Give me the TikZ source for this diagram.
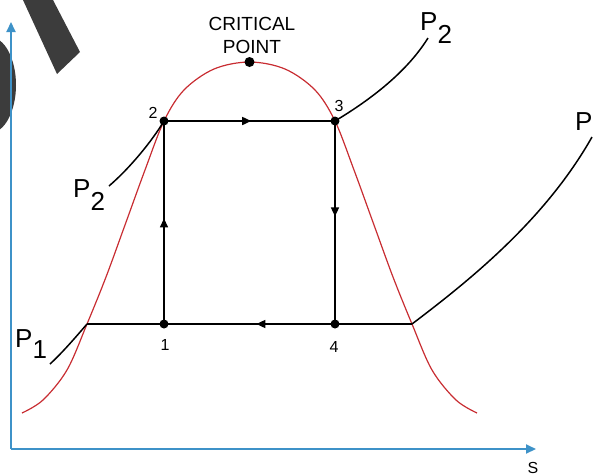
\documentclass[tikz,border=0pt]{standalone}
\usepackage{fontspec}
\setmainfont{Liberation Sans}
\usetikzlibrary{arrows.meta,decorations.markings}
\definecolor{axisblue}{RGB}{62,146,200}
\definecolor{curvered}{RGB}{200,45,50}
\definecolor{blotgray}{RGB}{60,60,60}
\begin{document}
\begin{tikzpicture}[x=1pt,y=-1pt,
  cyc/.style={line width=1.6pt,black},
  midarrow/.style={postaction={decorate},decoration={markings,mark=at position #1 with {\arrow{Triangle[length=9pt,width=8pt]}}}},
  statept/.style={circle,fill=black,inner sep=0pt,minimum size=9pt},
  num/.style={font=\fontsize{16}{16}\selectfont,inner sep=0pt,anchor=base},
  plab/.style={font=\fontsize{26}{26}\selectfont,inner sep=0pt,anchor=base west},
  crit/.style={font=\fontsize{19}{23}\selectfont,inner sep=0pt,anchor=base},
  axisline/.style={line width=2pt,axisblue,-{Triangle[length=10pt,width=9pt]}},
  sat/.style={curvered,line width=1.2pt},
  pline/.style={line width=1.5pt,black},
  blot/.style={fill=blotgray,draw=none}]
\useasboundingbox (0,0) rectangle (598,475);
% dark artefacts
\fill[blot] (-10,85) ellipse [x radius=26, y radius=48];
\fill[blot] (23,0) -- (53,0) -- (80,52) -- (57,74) -- cycle;
% axes
\coordinate (O) at (11,449);
\coordinate (Ytop) at (11,22);
\coordinate (Xend) at (536,449);
\draw[axisline] (O) -- (Ytop);
\draw[axisline] (O) -- (Xend);
\node[num] (slab) at (533,473) {S};
% saturation dome
\draw[sat] plot[smooth,tension=0.55] coordinates {(22,413) (43,400) (67,370) (87,324) (106,277) (125,225) (145,170) (164,121) (184,90) (214,69) (249.5,62) (285,69) (315,90) (335,121) (354,170) (374,225) (393,277) (412,324) (432,370) (456,400) (477,413)};
% state points
\node[statept] (p1) at (164,324) {};
\node[statept] (p2) at (164,121) {};
\node[statept] (p3) at (335,121) {};
\node[statept] (p4) at (335,324) {};
\node[statept,minimum size=10pt] (cp) at (249.5,62) {};
\coordinate (lc) at (87,324);
\coordinate (rc) at (412,324);
% cycle
\draw[cyc,midarrow=0.51] (p2.center) -- (p3.center);
\draw[cyc,midarrow=0.47] (p3.center) -- (p4.center);
\draw[cyc,midarrow=0.46] (p4.center) -- (p1.center);
\draw[cyc,midarrow=0.52] (p1.center) -- (p2.center);
\draw[cyc] (lc) -- (p1.center);
\draw[cyc] (p4.center) -- (rc);
% isobars
\coordinate (a2) at (109,186);
\coordinate (a1) at (50,364);
\coordinate (b2) at (428,38);
\coordinate (b1) at (592,137);
\draw[pline] (p2.center) .. controls (152,141) and (130,168) .. (a2);
\draw[pline] (lc) .. controls (75,338) and (62,353) .. (a1);
\draw[pline] (p3.center) .. controls (365,103) and (405,75) .. (b2);
\draw[pline] (rc) .. controls (470,280) and (545,220) .. (b1);
% labels
\node[crit] (critA) at (252,30) {CRITICAL};
\node[crit] (critB) at (252,53) {POINT};
\node[num] (l2) at (153,118) {2};
\node[num] (l3) at (339,111) {3};
\node[num] (l1) at (165,350) {1};
\node[num] (l4) at (334,352) {4};
\node[plab] (P2r) at (420,30) {P\raisebox{-13pt}{2}};
\node[plab] (P2l) at (73,197) {P\raisebox{-13pt}{2}};
\node[plab] (P1l) at (15,347) {P\raisebox{-11pt}{1}};
\node[plab] (P1r) at (575,130) {P};
\end{tikzpicture}
\end{document}
